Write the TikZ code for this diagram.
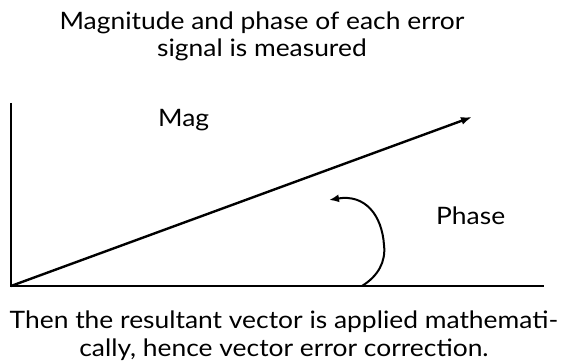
\documentclass[tikz,border=0pt]{standalone}
\usepackage{fontspec}
\setmainfont{Lato}[FakeStretch=1.1]
\usetikzlibrary{arrows.meta}
\begin{document}
\begin{tikzpicture}[x=1pt,y=-1pt,
  lbl/.style={font=\fontsize{24}{28}\selectfont, inner sep=0pt},
  axis/.style={line width=2pt},
  vec/.style={line width=2.4pt, -{Latex[length=11pt,width=8pt]}}]
\useasboundingbox (0,0) rectangle (568,363);
\node[lbl, anchor=base] (title1) at (262,30) {Magnitude and phase of each error};
\node[lbl, anchor=base] (title2) at (262,57) {signal is measured};
\node[lbl, anchor=base] (cap1) at (284,329) {Then the resultant vector is applied mathemati-};
\node[lbl, anchor=base] (cap2) at (284,357) {cally, hence vector error correction.};
\coordinate (origin) at (11,286);
\coordinate (ytop) at (11,103);
\coordinate (xend) at (544,286);
\coordinate (tip) at (472,117);
\draw[axis] (ytop) -- (origin) -- (xend);
\draw[vec] (origin) -- (tip);
\node[lbl, anchor=base west] (mag) at (158,127) {Mag};
\node[lbl, anchor=base west] (phase) at (436,225) {Phase};
\coordinate (a0) at (362,286);
\coordinate (a1) at (384,245);
\coordinate (a2) at (329,200);
\draw[line width=2pt, -{Latex[length=10pt,width=8pt]}] (a0) .. controls (378,276) and (386,262) .. (a1) .. controls (382,215) and (365,194) .. (a2);
\end{tikzpicture}
\end{document}
